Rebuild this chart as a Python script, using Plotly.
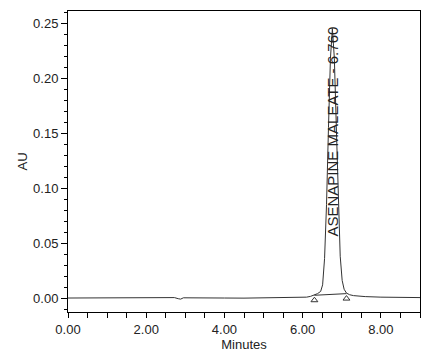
import plotly.graph_objects as go

# Chromatogram trace (minutes, AU)
time_min = [0.00, 0.50, 1.00, 1.50, 2.00, 2.50, 2.62, 2.72, 2.82, 2.88, 2.95, 3.10,
            3.50, 4.00, 4.50, 5.00, 5.50, 5.90, 6.10, 6.20, 6.30, 6.38, 6.46, 6.51,
            6.56, 6.61, 6.66, 6.71, 6.76, 6.81, 6.86, 6.91, 6.96, 7.01, 7.06, 7.12,
            7.20, 7.30, 7.45, 7.60, 8.00, 8.50, 9.00]
absorbance = [0.0000, 0.0001, 0.0000, 0.0001, 0.0000, 0.0002, 0.0008, 0.0004, -0.0006, -0.0010, 0.0002, 0.0001,
              0.0000, 0.0000, -0.0001, 0.0000, 0.0001, 0.0003, 0.0008, 0.0015, 0.0025, 0.0040, 0.0060, 0.0120,
              0.0360, 0.0850, 0.1550, 0.2180, 0.2450, 0.2180, 0.1560, 0.0870, 0.0380, 0.0160, 0.0080, 0.0045,
              0.0030, 0.0022, 0.0017, 0.0013, 0.0008, 0.0005, 0.0004]

# Peak integration marks (start / end of peak)
peak_marks_t = [6.30, 7.12]
peak_marks_au = [0.0025, 0.0040]

peak_label = "ASENAPINE MALEATE - 6.760"
peak_rt = 6.76

x_ticks = [0, 2, 4, 6, 8]
x_tick_labels = ["0.00", "2.00", "4.00", "6.00", "8.00"]
y_ticks = [0.00, 0.05, 0.10, 0.15, 0.20, 0.25]
y_tick_labels = ["0.00", "0.05", "0.10", "0.15", "0.20", "0.25"]

font_family = "Liberation Sans, Arial, sans-serif"
ink = "#222222"

fig = go.Figure()
fig.add_trace(go.Scatter(x=time_min, y=absorbance, mode="lines",
                         line=dict(color="#333333", width=1), hoverinfo="skip"))
fig.add_trace(go.Scatter(x=peak_marks_t, y=peak_marks_au, mode="lines",
                         line=dict(color="#333333", width=1), hoverinfo="skip"))
fig.add_trace(go.Scatter(x=peak_marks_t, y=[v - 0.0045 for v in peak_marks_au], mode="markers",
                         marker=dict(symbol="triangle-up-open", size=6, color="#333333",
                                     line=dict(width=1)), hoverinfo="skip"))

fig.add_annotation(x=peak_rt, y=0.0545, xref="x", yref="y", text=peak_label,
                   textangle=-90, showarrow=False, xanchor="center", yanchor="bottom",
                   font=dict(family=font_family, size=15, color=ink))

# The page body has an 8px margin, so the figure is sized to fit inside it
fig.update_layout(
    width=428, height=348,
    margin=dict(l=60, r=16, t=3, b=44),
    paper_bgcolor="white", plot_bgcolor="white",
    showlegend=False,
    font=dict(family=font_family, size=13, color=ink),
    xaxis=dict(range=[0, 9], tickvals=x_ticks, ticktext=x_tick_labels,
               ticks="outside", ticklen=5, tickwidth=1, tickcolor="black",
               minor=dict(dtick=0.5, tick0=0, ticks="outside", ticklen=5, tickcolor="black"),
               showline=True, linecolor="black", linewidth=1, mirror=True,
               showgrid=False, zeroline=False, automargin=False,
               title=dict(text="Minutes", standoff=3, font=dict(size=13))),
    yaxis=dict(range=[-0.0127, 0.261], tickvals=y_ticks, ticktext=y_tick_labels,
               ticks="outside", ticklen=6, tickwidth=1, tickcolor="black",
               minor=dict(dtick=0.01, tick0=0, ticks="outside", ticklen=3, tickcolor="black"),
               showline=True, linecolor="black", linewidth=1, mirror=True,
               showgrid=False, zeroline=False, automargin=False,
               title=dict(text="AU", standoff=2, font=dict(size=13))),
)

fig.write_html("out.html")
